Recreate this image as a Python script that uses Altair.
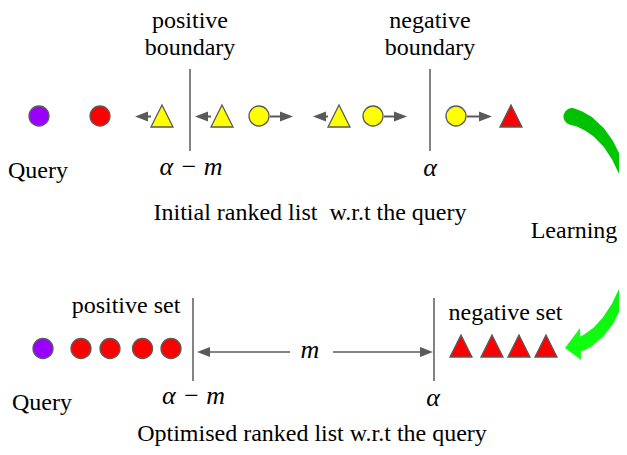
import altair as alt
import pandas as pd

# ------------------------------------------------------------------ data
# page-pixel coordinates of the diagram (x to the right, y downwards)
TOP_Y = 116
BOT_CIRCLE_Y = 348.5
BOT_TRI_Y = 346

# top row: initial ranked list
top_x = [39, 100, 162, 222, 259, 339, 373, 456, 511]
top_kind = ["circle", "circle", "triangle", "triangle", "circle",
            "triangle", "circle", "circle", "triangle"]
top_fill = ["purple", "red", "yellow", "yellow", "yellow",
            "yellow", "yellow", "yellow", "red"]

# bottom row: optimised ranked list
bot_circle_x = [43, 81, 110, 142.5, 171]
bot_circle_fill = ["purple", "red", "red", "red", "red"]
bot_tri_x = [461, 492, 519, 546]

# small grey arrows of the top row (start at a shape edge, end at the tip)
arrow_from = [151, 211, 270, 328, 384, 467]
arrow_tip = [135, 195, 293, 313, 407, 492]

# long margin arrows of the bottom row
long_from = [290, 333]
long_tip = [197, 433]
LONG_Y = 352

# boundary lines
bound_x_top = [190, 430]
bound_x_bot = [193, 434]
top_line_y = (69, 151)
bot_line_y = (298, 381)

# green "Learning" arrow: centre line points and band widths
arc_x = [572, 579, 587.9, 598.5, 608.1, 616.3, 623, 628, 631, 632,
         631, 628, 623, 616.3, 608.1, 598.5, 587.9, 581.2]
arc_y = [116.5, 118.8, 123.5, 132, 143.5, 157.7, 174.3, 192.5, 212, 232,
         252, 271.5, 289.8, 306.2, 320.5, 332, 340.5, 344]
arc_w = [17, 16, 15, 13, 11, 9, 7, 5, 4, 3, 4, 6, 8, 10, 12, 13, 14, 14]
green_head = (573, 344)

# text
plain_text = ["positive", "boundary", "negative", "boundary", "Query",
              "Initial ranked list\u00a0 w.r.t the query", "Learning",
              "positive set", "negative set", "Query",
              "Optimised ranked list w.r.t the query"]
plain_x = [190, 190, 430, 430, 38, 310, 574, 126, 505.5, 42, 312]
plain_y = [28, 55, 28, 55, 178, 220, 238, 313, 320, 410, 441]

math_text = ["α − m", "α", "α − m", "α", "m"]
math_x = [191, 430, 193.5, 433, 310]
math_y = [175, 176, 404, 406, 358]

# ------------------------------------------------------------------ build
GREY = "#5a5a5a"
COLORS = {"purple": "#9900ff", "red": "#ff0000", "yellow": "#ffff00"}

xs = alt.Scale(domain=[8, 619])
ys = alt.Scale(domain=[8, 447], reverse=True)
X = lambda f: alt.X(f, type="quantitative", scale=xs, axis=None)
Y = lambda f: alt.Y(f, type="quantitative", scale=ys, axis=None)

sym = pd.DataFrame({
    "x": top_x + bot_circle_x + bot_tri_x,
    "y": [TOP_Y] * len(top_x) + [BOT_CIRCLE_Y] * len(bot_circle_x) + [BOT_TRI_Y] * len(bot_tri_x),
    "kind": top_kind + ["circle"] * len(bot_circle_x) + ["triangle"] * len(bot_tri_x),
    "fill": top_fill + bot_circle_fill + ["red"] * len(bot_tri_x),
})
fill_enc = alt.Fill("fill:N", scale=alt.Scale(domain=list(COLORS), range=list(COLORS.values())), legend=None)

circles = alt.Chart(sym[sym.kind == "circle"]).mark_point(
    shape="circle", size=400, filled=True, stroke=GREY, strokeWidth=1.3, opacity=1
).encode(x=X("x"), y=Y("y"), fill=fill_enc)

triangles = alt.Chart(sym[sym.kind == "triangle"]).mark_point(
    shape="M0,-1L1,1L-1,1Z", size=484, filled=True, stroke=GREY, strokeWidth=1.3, opacity=1
).encode(x=X("x"), y=Y("y"), fill=fill_enc)

# small arrows
ar = pd.DataFrame({"x0": arrow_from, "tip": arrow_tip})
ar["dir"] = ["L" if t < f else "R" for f, t in zip(arrow_from, arrow_tip)]
ar["x1"] = [t + (6 if d == "L" else -6) for t, d in zip(ar.tip, ar.dir)]
ar["y"] = TOP_Y + 0.5
small_rules = alt.Chart(ar).mark_rule(color=GREY, strokeWidth=2).encode(
    x=X("x0"), x2="x1", y=Y("y"))
small_heads_l = alt.Chart(ar[ar.dir == "L"]).mark_point(
    shape="M0,0L2,-0.77L2,0.77Z", size=169, filled=True, color=GREY, opacity=1
).encode(x=X("tip"), y=Y("y"))
small_heads_r = alt.Chart(ar[ar.dir == "R"]).mark_point(
    shape="M0,0L-2,-0.77L-2,0.77Z", size=169, filled=True, color=GREY, opacity=1
).encode(x=X("tip"), y=Y("y"))

la = pd.DataFrame({"x0": long_from, "tip": long_tip})
la["dir"] = ["L" if t < f else "R" for f, t in zip(long_from, long_tip)]
la["x1"] = [t + (6 if d == "L" else -6) for t, d in zip(la.tip, la.dir)]
la["y"] = LONG_Y
long_rules = alt.Chart(la).mark_rule(color=GREY, strokeWidth=1.6).encode(
    x=X("x0"), x2="x1", y=Y("y"))
long_heads_l = alt.Chart(la[la.dir == "L"]).mark_point(
    shape="M0,0L2,-0.77L2,0.77Z", size=169, filled=True, color=GREY, opacity=1
).encode(x=X("tip"), y=Y("y"))
long_heads_r = alt.Chart(la[la.dir == "R"]).mark_point(
    shape="M0,0L-2,-0.77L-2,0.77Z", size=169, filled=True, color=GREY, opacity=1
).encode(x=X("tip"), y=Y("y"))

# boundary lines
bl = pd.DataFrame({
    "x": bound_x_top + bound_x_bot,
    "y0": [top_line_y[0]] * 2 + [bot_line_y[0]] * 2,
    "y1": [top_line_y[1]] * 2 + [bot_line_y[1]] * 2,
})
bounds = alt.Chart(bl).mark_rule(color=GREY, strokeWidth=1.5).encode(
    x=X("x"), y=Y("y0"), y2="y1")

# green arrow
arc = pd.DataFrame({"x": arc_x, "y": arc_y, "w": arc_w, "i": range(len(arc_x))})
grad = alt.LinearGradient(
    gradient="linear",
    stops=[alt.GradientStop(color="#00c000", offset=0),
           alt.GradientStop(color="#00c800", offset=0.3),
           alt.GradientStop(color="#0cec0c", offset=0.7),
           alt.GradientStop(color="#11ff11", offset=1)],
    x1=0, x2=0, y1=0, y2=1)
trail = alt.Chart(arc).mark_trail(color=grad, opacity=1).encode(
    x=X("x"), y=Y("y"), size=alt.Size("w:Q", scale=None, legend=None),
    order="i:Q")
gh = pd.DataFrame({"x": [green_head[0]], "y": [green_head[1]]})
head = alt.Chart(gh).mark_point(
    shape="M-0.5,0.25L0.44,-1L0.5,1Z", size=1024, filled=True,
    color="#11ff11", opacity=1, strokeWidth=0
).encode(x=X("x"), y=Y("y"))

# texts
pt = pd.DataFrame({"t": plain_text, "x": plain_x, "y": plain_y})
plain = alt.Chart(pt).mark_text(
    font="Liberation Serif", fontSize=24, baseline="alphabetic", align="center", color="black"
).encode(x=X("x"), y=Y("y"), text="t:N")

mt = pd.DataFrame({"t": math_text, "x": math_x, "y": math_y})
math = alt.Chart(mt).mark_text(
    font="Liberation Serif", fontSize=26, fontStyle="italic", baseline="alphabetic",
    align="center", color="black"
).encode(x=X("x"), y=Y("y"), text="t:N")

chart = alt.layer(
    trail, head, bounds, small_rules, small_heads_l, small_heads_r,
    long_rules, long_heads_l, long_heads_r, circles, triangles, plain, math
).properties(
    width=611, height=439, padding=0,
    autosize=alt.AutoSizeParams(type="none"), background="white"
).configure_view(stroke=None)

chart.save("out.html", embed_options={"renderer": "svg", "actions": False})
